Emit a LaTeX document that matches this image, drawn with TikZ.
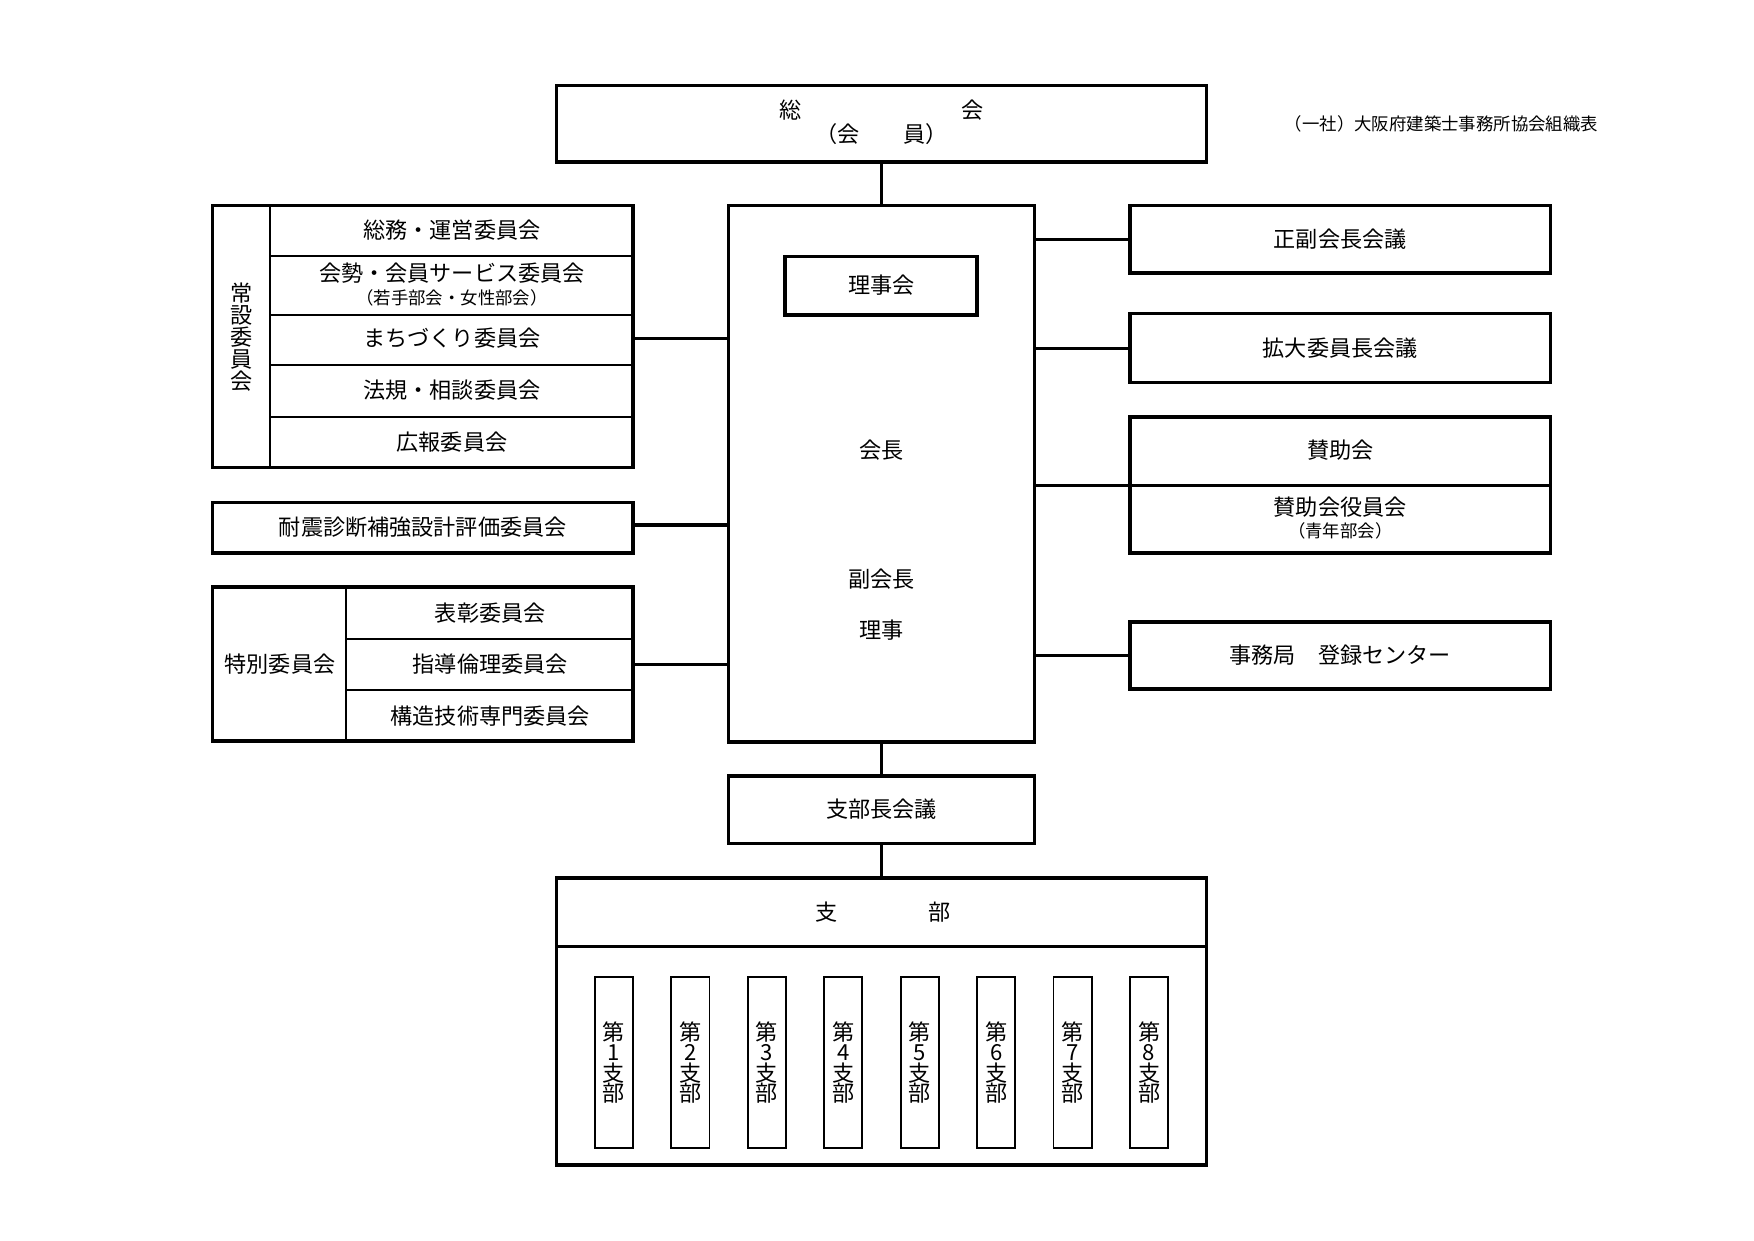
\documentclass[tikz,border=0pt]{standalone}
\usepackage{fontspec}
\setmainfont{Noto Sans CJK JP}
\begin{document}
\begin{tikzpicture}[x=0.025cm,y=-0.025cm,
 box/.style={draw,line width=2.2pt},
 thin/.style={line width=1.2pt},
 con/.style={line width=2pt},
 t/.style={font=\fontsize{14}{15}\selectfont,inner sep=0pt},
 s/.style={font=\fontsize{11}{12}\selectfont,inner sep=0pt}]
\useasboundingbox (0,0) rectangle (1560,1103);
% general
\draw[box] (495,76) rectangle (1073,144);
\node[t] (sou) at (703,98) {総};
\node[t] (kai) at (865,98) {会};
\node[t] (kaiin) at (784,119) {（会\hspace{2em}員）};
\node[s] (title) at (1282,110) {（一社）大阪府建築士事務所協会組織表};
\coordinate (g) at (784,144);
% center
\draw[box] (648,183) rectangle (920,660);
\coordinate (ct) at (784,183);
\draw[box] (698,228) rectangle (869,280);
\node[t] (riji) at (784,254) {理事会};
\node[t] (kaicho) at (784,400) {会長};
\node[t] (fuku) at (784,515) {副会長};
\node[t] (rijii) at (784,560) {理事};
\draw[con] (g) -- (ct);
% jousetsu
\draw[box] (189,183) rectangle (563,416);
\draw[thin] (240,183) -- (240,416);
\foreach \y in {228,280,325,371} \draw[thin] (240,\y) -- (563,\y);
\node[t,align=center] (jo) at (215,300) {常\\[-1pt]設\\[-1pt]委\\[-1pt]員\\[-1pt]会};
\node[t] (j1) at (402,205) {総務・運営委員会};
\node[t] (j2) at (402,243) {会勢・会員サービス委員会};
\node[s] (j2s) at (402,265) {（若手部会・女性部会）};
\node[t] (j3) at (402,301) {まちづくり委員会};
\node[t] (j4) at (402,347) {法規・相談委員会};
\node[t] (j5) at (402,393) {広報委員会};
\draw[con] (563,301) -- (648,301);
% taishin
\draw[box] (189,447) rectangle (563,492);
\node[t] (ta) at (376,469) {耐震診断補強設計評価委員会};
\draw[con] (563,467) -- (648,467);
% tokubetsu
\draw[box] (189,522) rectangle (563,659);
\draw[thin] (308,522) -- (308,659);
\foreach \y in {568,614} \draw[thin] (308,\y) -- (563,\y);
\node[t] (tk) at (249,591) {特別委員会};
\node[t] (t1) at (436,545) {表彰委員会};
\node[t] (t2) at (436,591) {指導倫理委員会};
\node[t] (t3) at (436,637) {構造技術専門委員会};
\draw[con] (563,591) -- (648,591);
% right
\draw[box] (1005,183) rectangle (1379,243);
\node[t] (r1) at (1192,213) {正副会長会議};
\draw[con] (920,213) -- (1005,213);
\draw[box] (1005,279) rectangle (1379,340);
\node[t] (r2) at (1192,310) {拡大委員長会議};
\draw[con] (920,310) -- (1005,310);
\draw[box] (1005,371) rectangle (1379,492);
\draw[box] (1005,432) -- (1379,432);
\node[t] (r3) at (1192,400) {賛助会};
\node[t] (r4) at (1192,451) {賛助会役員会};
\node[s] (r4s) at (1192,472) {（青年部会）};
\draw[con] (920,432) -- (1005,432);
\draw[box] (1005,553) rectangle (1379,613);
\node[t] (r5) at (1192,583) {事務局\hspace{1em}登録センター};
\draw[con] (920,583) -- (1005,583);
% shibu
\draw[box] (648,690) rectangle (920,750);
\node[t] (sbc) at (784,720) {支部長会議};
\draw[con] (784,660) -- (784,690);
\draw[con] (784,750) -- (784,781);
\draw[box] (495,781) rectangle (1073,1036);
\draw[box] (495,842) -- (1073,842);
\node[t] (shi) at (735,811) {支};
\node[t] (bu) at (836,811) {部};
\foreach \i in {1,...,8}{
 \pgfmathsetmacro{\xx}{529+68*(\i-1)}
 \draw[thin] (\xx,869) rectangle ({\xx+34},1021);
 \node[t,align=center] (b\i) at ({\xx+17},945) {第\\[-2pt]\i\\[-2pt]支\\[-2pt]部};
}
\end{tikzpicture}
\end{document}
